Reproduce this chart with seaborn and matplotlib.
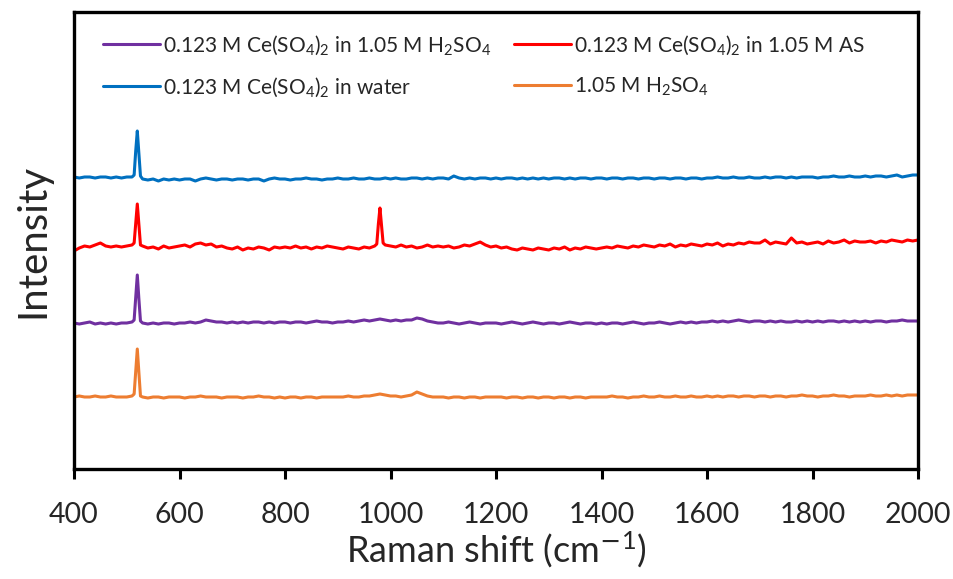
import numpy as np
import pandas as pd
import matplotlib
matplotlib.use("Agg")
import matplotlib.pyplot as plt
import seaborn as sns

# ---------------- data ----------------
grid_x = list(range(400, 2001, 10))          # sampling grid, cm-1
peak_x = [514, 517, 523, 526]                # extra samples around the 520 cm-1 line
peak980_x = [974, 977, 983, 986]             # extra samples around the 980 cm-1 line

blue_water = [
    292, 291, 292, 292, 291, 292, 292, 291, 292, 291,
    292, 292, 338, 290, 289, 290, 288, 290, 289, 290,
    289, 290, 290, 288, 290, 291, 290, 289, 290, 290,
    289, 290, 290, 289, 290, 290, 288, 290, 291, 290,
    290, 289, 290, 290, 291, 290, 290, 289, 290, 290,
    291, 290, 290, 291, 290, 290, 291, 290, 290, 291,
    290, 291, 290, 290, 291, 291, 290, 291, 290, 291,
    291, 290, 293, 291, 290, 291, 290, 291, 291, 290,
    291, 290, 291, 291, 290, 291, 290, 291, 290, 291,
    290, 291, 291, 290, 291, 290, 291, 291, 290, 291,
    291, 290, 291, 291, 290, 291, 291, 290, 291, 291,
    290, 291, 291, 290, 291, 291, 290, 291, 291, 290,
    291, 291, 292, 291, 291, 292, 291, 291, 292, 291,
    291, 292, 291, 292, 292, 291, 292, 291, 292, 292,
    292, 291, 292, 292, 293, 292, 292, 293, 292, 292,
    293, 292, 293, 293, 292, 293, 294, 292, 293, 294,
    294]
blue_peak = [294, 318, 316, 293]

red_as = [
    218, 221, 223, 222, 224, 226, 223, 222, 223, 222,
    223, 224, 265, 223, 221, 222, 220, 223, 221, 222,
    223, 224, 222, 225, 226, 224, 225, 222, 223, 221,
    220, 222, 219, 221, 220, 222, 221, 219, 222, 221,
    222, 221, 223, 221, 222, 220, 222, 221, 223, 222,
    221, 220, 222, 221, 220, 222, 221, 223, 261, 224,
    223, 222, 224, 222, 223, 221, 222, 224, 222, 223,
    222, 223, 221, 222, 224, 223, 225, 227, 224, 222,
    223, 221, 222, 220, 219, 221, 220, 219, 221, 220,
    219, 221, 220, 222, 219, 221, 220, 222, 221, 220,
    221, 222, 221, 223, 222, 221, 223, 222, 224, 223,
    222, 224, 223, 225, 222, 224, 223, 225, 224, 223,
    225, 224, 226, 223, 225, 224, 226, 225, 227, 226,
    226, 229, 225, 227, 226, 225, 231, 226, 227, 225,
    226, 227, 225, 228, 226, 227, 229, 226, 228, 227,
    227, 228, 226, 228, 227, 229, 228, 227, 229, 228,
    229]
red_peak = [226, 246, 244, 224]
red_peak980 = [225, 245, 243, 226]

purple_h2so4 = [
    146, 145, 146, 147, 145, 146, 145, 146, 145, 146,
    146, 147, 194, 146, 145, 146, 145, 146, 146, 145,
    146, 146, 147, 146, 147, 149, 148, 147, 147, 146,
    147, 146, 147, 146, 147, 147, 146, 147, 146, 147,
    147, 146, 147, 147, 146, 147, 148, 147, 147, 146,
    147, 147, 148, 147, 148, 149, 148, 149, 150, 149,
    148, 149, 148, 149, 149, 151, 150, 148, 147, 146,
    146, 147, 146, 145, 146, 147, 146, 145, 146, 146,
    146, 145, 146, 147, 146, 145, 146, 147, 146, 145,
    146, 146, 145, 146, 147, 146, 145, 146, 146, 145,
    146, 145, 146, 146, 145, 146, 147, 146, 145, 146,
    146, 147, 146, 145, 146, 147, 146, 147, 146, 147,
    147, 148, 147, 148, 147, 148, 149, 148, 147, 148,
    148, 147, 148, 147, 148, 147, 147, 148, 147, 148,
    147, 148, 147, 148, 148, 147, 148, 147, 148, 147,
    148, 147, 148, 148, 147, 148, 148, 149, 148, 148,
    148]
purple_peak = [149, 172, 170, 148]

orange_acid = [
    72, 73, 72, 72, 73, 72, 72, 73, 72, 72,
    72, 73, 120, 72, 71, 72, 72, 71, 72, 72,
    72, 71, 72, 72, 73, 72, 72, 72, 71, 72,
    72, 72, 71, 72, 72, 73, 72, 72, 71, 72,
    71, 72, 72, 71, 72, 72, 71, 72, 72, 72,
    72, 72, 73, 72, 72, 73, 73, 74, 75, 74,
    73, 73, 72, 73, 74, 77, 75, 73, 72, 72,
    72, 71, 72, 72, 71, 72, 72, 71, 72, 72,
    72, 72, 71, 72, 72, 71, 72, 72, 71, 72,
    72, 71, 72, 72, 71, 72, 72, 71, 72, 72,
    72, 72, 73, 72, 72, 71, 72, 72, 73, 72,
    72, 73, 72, 72, 73, 72, 72, 73, 72, 72,
    73, 72, 73, 72, 73, 73, 72, 73, 73, 72,
    73, 73, 72, 73, 73, 72, 73, 73, 74, 73,
    73, 72, 73, 73, 74, 73, 73, 72, 73, 73,
    73, 74, 73, 73, 74, 73, 74, 73, 74, 74,
    74]
orange_peak = [75, 98, 96, 73]

labels = [
    "0.123 M Ce(SO$_4$)$_2$ in 1.05 M H$_2$SO$_4$",
    "0.123 M Ce(SO$_4$)$_2$ in water",
    "0.123 M Ce(SO$_4$)$_2$ in 1.05 M AS",
    "1.05 M H$_2$SO$_4$",
]
colors = ["#7030A0", "#0070C0", "#FF0000", "#ED7D31"]

# ---------------- build long table ----------------
def series(base, extra_sets):
    xs = list(grid_x)
    ys = list(base)
    for ex, ey in extra_sets:
        xs += ex
        ys += ey
    order = np.argsort(xs)
    return np.array(xs)[order], np.array(ys)[order]

sets = [
    series(purple_h2so4, [(peak_x, purple_peak)]),
    series(blue_water, [(peak_x, blue_peak)]),
    series(red_as, [(peak_x, red_peak), (peak980_x, red_peak980)]),
    series(orange_acid, [(peak_x, orange_peak)]),
]
frames = []
for lab, (xs, ys) in zip(labels, sets):
    frames.append(pd.DataFrame({"x": xs, "y": ys, "s": lab}))
df = pd.concat(frames, ignore_index=True)

# ---------------- style ----------------
sns.set_style("white")
plt.rcParams["font.family"] = ["Lato", "DejaVu Sans"]
plt.rcParams["mathtext.default"] = "regular"

fig = plt.figure(figsize=(9.54, 5.79), dpi=100)
ax = fig.add_axes([74 / 954, 1 - 469 / 579, (918 - 74) / 954, (469 - 12) / 579])

sns.lineplot(data=df, x="x", y="y", hue="s", hue_order=labels,
             palette=colors, estimator=None, sort=False, linewidth=2.2, ax=ax)

ax.set_xlim(400, 2000)
ax.set_ylim(0, 457)
ax.set_xticks(range(400, 2001, 200))
ax.set_yticks([])
ax.tick_params(axis="x", direction="out", length=7, width=2.2, labelsize=20.5,
               pad=17, bottom=True, color="black")
for sp in ax.spines.values():
    sp.set_linewidth(2.4)
    sp.set_color("black")
ax.set_xlabel("Raman shift (cm$^{\\mathsf{-}1}$)", fontsize=26, labelpad=1)
ax.set_ylabel("Intensity", fontsize=29, labelpad=16)

handles, labs = ax.get_legend_handles_labels()
leg = ax.legend(handles, labs, ncol=2, loc="upper left", bbox_to_anchor=(0.012, 0.995),
                frameon=False, fontsize=15, handlelength=2.75, handletextpad=0.12,
                labelspacing=0.9, columnspacing=1.1)
for h in leg.get_lines():
    h.set_linewidth(2.2)

fig.savefig("out.png", dpi=100)
